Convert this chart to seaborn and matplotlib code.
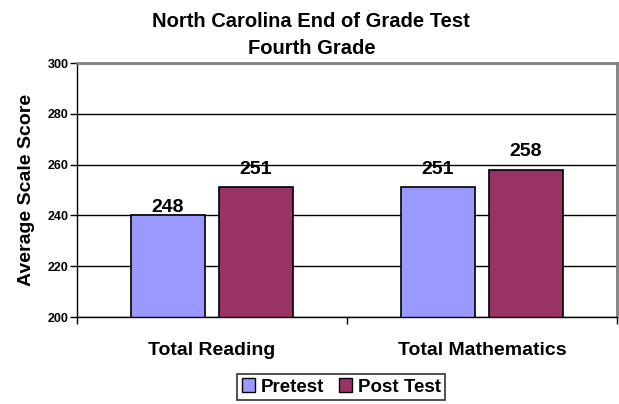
import matplotlib
matplotlib.use('Agg')
import matplotlib.pyplot as plt
import pandas as pd
import seaborn as sns
from matplotlib.patches import Patch

# data
subjects = ['Total Reading', 'Total Mathematics']
tests = ['Pretest', 'Post Test']
pretest_scores = [240, 251]
posttest_scores = [251, 258]
pretest_labels = ['248', '251']
posttest_labels = ['251', '258']
colors = ['#9999FF', '#993366']

df = pd.DataFrame({
    'subject': subjects * 2,
    'test': [tests[0]] * 2 + [tests[1]] * 2,
    'score': pretest_scores + posttest_scores,
})

sns.set_style('white')
plt.rcParams['font.family'] = ['Liberation Sans', 'DejaVu Sans']
plt.rcParams['font.weight'] = 'bold'
plt.rcParams['text.color'] = 'black'
plt.rcParams['axes.labelcolor'] = 'black'
plt.rcParams['xtick.color'] = 'black'
plt.rcParams['ytick.color'] = 'black'

fig = plt.figure(figsize=(6.19, 4.04), dpi=100)
ax = fig.add_axes([0.1244, 0.2153, 0.8724, 0.6287])

sns.barplot(data=df, x='subject', y='score', hue='test', palette=colors,
            width=0.652, gap=0.17, edgecolor='black', linewidth=1.2,
            saturation=1, legend=False, ax=ax)

ax.set_ylim(200, 300)
ax.set_xlim(-0.5, 1.5)
ax.set_yticks([200, 220, 240, 260, 280, 300])
ax.set_yticklabels(['200', '220', '240', '260', '280', '300'],
                   fontsize=9, fontweight='bold')
ax.grid(True, axis='y', color='black', linewidth=1)
ax.set_axisbelow(True)

# value labels above the bars (offsets in pixels as in the original)
label_offsets = [[-1, 9], [9, 10]]
for cont, labels, offs in zip(ax.containers,
                              [pretest_labels, posttest_labels],
                              label_offsets):
    for bar, text, off in zip(cont, labels, offs):
        ax.annotate(text, (bar.get_x() + bar.get_width() / 2,
                           bar.get_height()),
                    xytext=(0, off), textcoords='offset pixels',
                    ha='center', va='bottom', fontsize=14,
                    fontweight='bold')

ax.set_xticks([0, 1])
ax.set_xticklabels(subjects, fontsize=14, fontweight='bold')
ax.set_xticks([-0.5, 0.5, 1.5], minor=True)
ax.tick_params(axis='x', which='major', length=0, pad=18)
ax.tick_params(axis='x', which='minor', length=5, width=1, color='black',
               direction='out', bottom=True)
ax.tick_params(axis='y', length=5, width=1, color='black', direction='out',
               left=True, pad=1)
ax.set_xlabel('')
ax.set_ylabel('Average Scale Score', fontsize=14, fontweight='bold',
              labelpad=9)

for side in ['top', 'right']:
    ax.spines[side].set_color('#808080')
    ax.spines[side].set_linewidth(2)
for side in ['left', 'bottom']:
    ax.spines[side].set_color('black')
    ax.spines[side].set_linewidth(1)

fig.text(0.503, 0.947, 'North Carolina End of Grade Test', ha='center',
         va='center', fontsize=14.5, fontweight='bold')
fig.text(0.503, 0.880, 'Fourth Grade', ha='center', va='center',
         fontsize=14.5, fontweight='bold')

handles = [Patch(facecolor=c, edgecolor='black', linewidth=1) for c in colors]
leg = fig.legend(handles, tests, loc='center', bbox_to_anchor=(0.551, 0.042),
                 ncol=2, frameon=True, fancybox=False, handlelength=0.7,
                 handleheight=0.7, handletextpad=0.3, columnspacing=0.8,
                 borderpad=0.25, borderaxespad=0,
                 prop={'weight': 'bold', 'size': 13.5})
leg.get_frame().set_edgecolor('black')
leg.get_frame().set_linewidth(1.2)

fig.savefig('out.png', dpi=100)
